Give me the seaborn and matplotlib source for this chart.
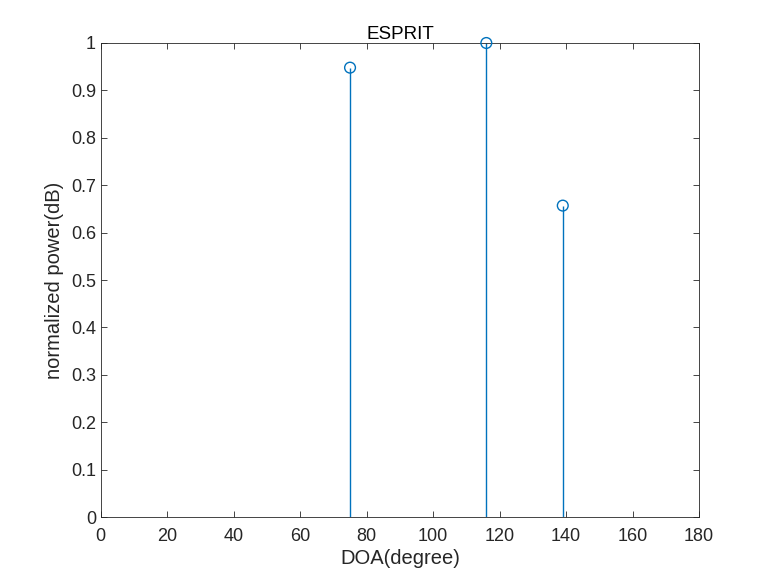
"""Stem plot of ESPRIT DOA estimates (normalized power)."""

import matplotlib

matplotlib.use("Agg")

import matplotlib.pyplot as plt
import pandas as pd
import seaborn as sns

# estimated directions of arrival and their normalized power
doa_deg = [75, 116, 139]
power = [0.948, 1.0, 0.657]

x_ticks = list(range(0, 181, 20))
y_ticks = [round(0.1 * i, 1) for i in range(11)]
y_tick_labels = ["0", "0.1", "0.2", "0.3", "0.4", "0.5", "0.6", "0.7", "0.8", "0.9", "1"]

LINE_COLOR = "#0072BD"
AXIS_COLOR = "#262626"


def main() -> None:
    sns.set_style("white")
    plt.rcParams["font.family"] = ["Liberation Sans", "DejaVu Sans"]

    frame = pd.DataFrame({"doa": doa_deg, "power": power})

    fig = plt.figure(figsize=(7.75, 5.81), dpi=100)
    ax = fig.add_axes([0.13, 0.11, 0.772, 0.816])

    ax.vlines(frame["doa"], 0, frame["power"], color=LINE_COLOR, linewidth=1.0, zorder=2)
    sns.scatterplot(
        data=frame,
        x="doa",
        y="power",
        ax=ax,
        marker="o",
        s=60,
        facecolors="none",
        edgecolor=LINE_COLOR,
        linewidth=1.0,
        zorder=3,
        clip_on=False,
    )

    ax.set_xlim(0, 180)
    ax.set_ylim(0, 1)
    ax.set_xticks(x_ticks)
    ax.set_yticks(y_ticks)
    ax.set_yticklabels(y_tick_labels)
    ax.tick_params(direction="in", length=4, width=0.6, colors=AXIS_COLOR, labelsize=13,
                   top=True, right=True, bottom=True, left=True, labeltop=False, labelright=False)
    ax.tick_params(axis="x", pad=8)
    for spine in ax.spines.values():
        spine.set_color(AXIS_COLOR)
        spine.set_linewidth(0.6)
        spine.set_visible(True)

    ax.set_title("ESPRIT", fontsize=13.5, color="black", pad=3)
    ax.set_xlabel("DOA(degree)", fontsize=14.5, color=AXIS_COLOR, labelpad=3)
    ax.set_ylabel("normalized power(dB)", fontsize=14.5, color=AXIS_COLOR, labelpad=5)

    fig.savefig("out.png", dpi=100)
    plt.close(fig)


if __name__ == "__main__":
    main()
